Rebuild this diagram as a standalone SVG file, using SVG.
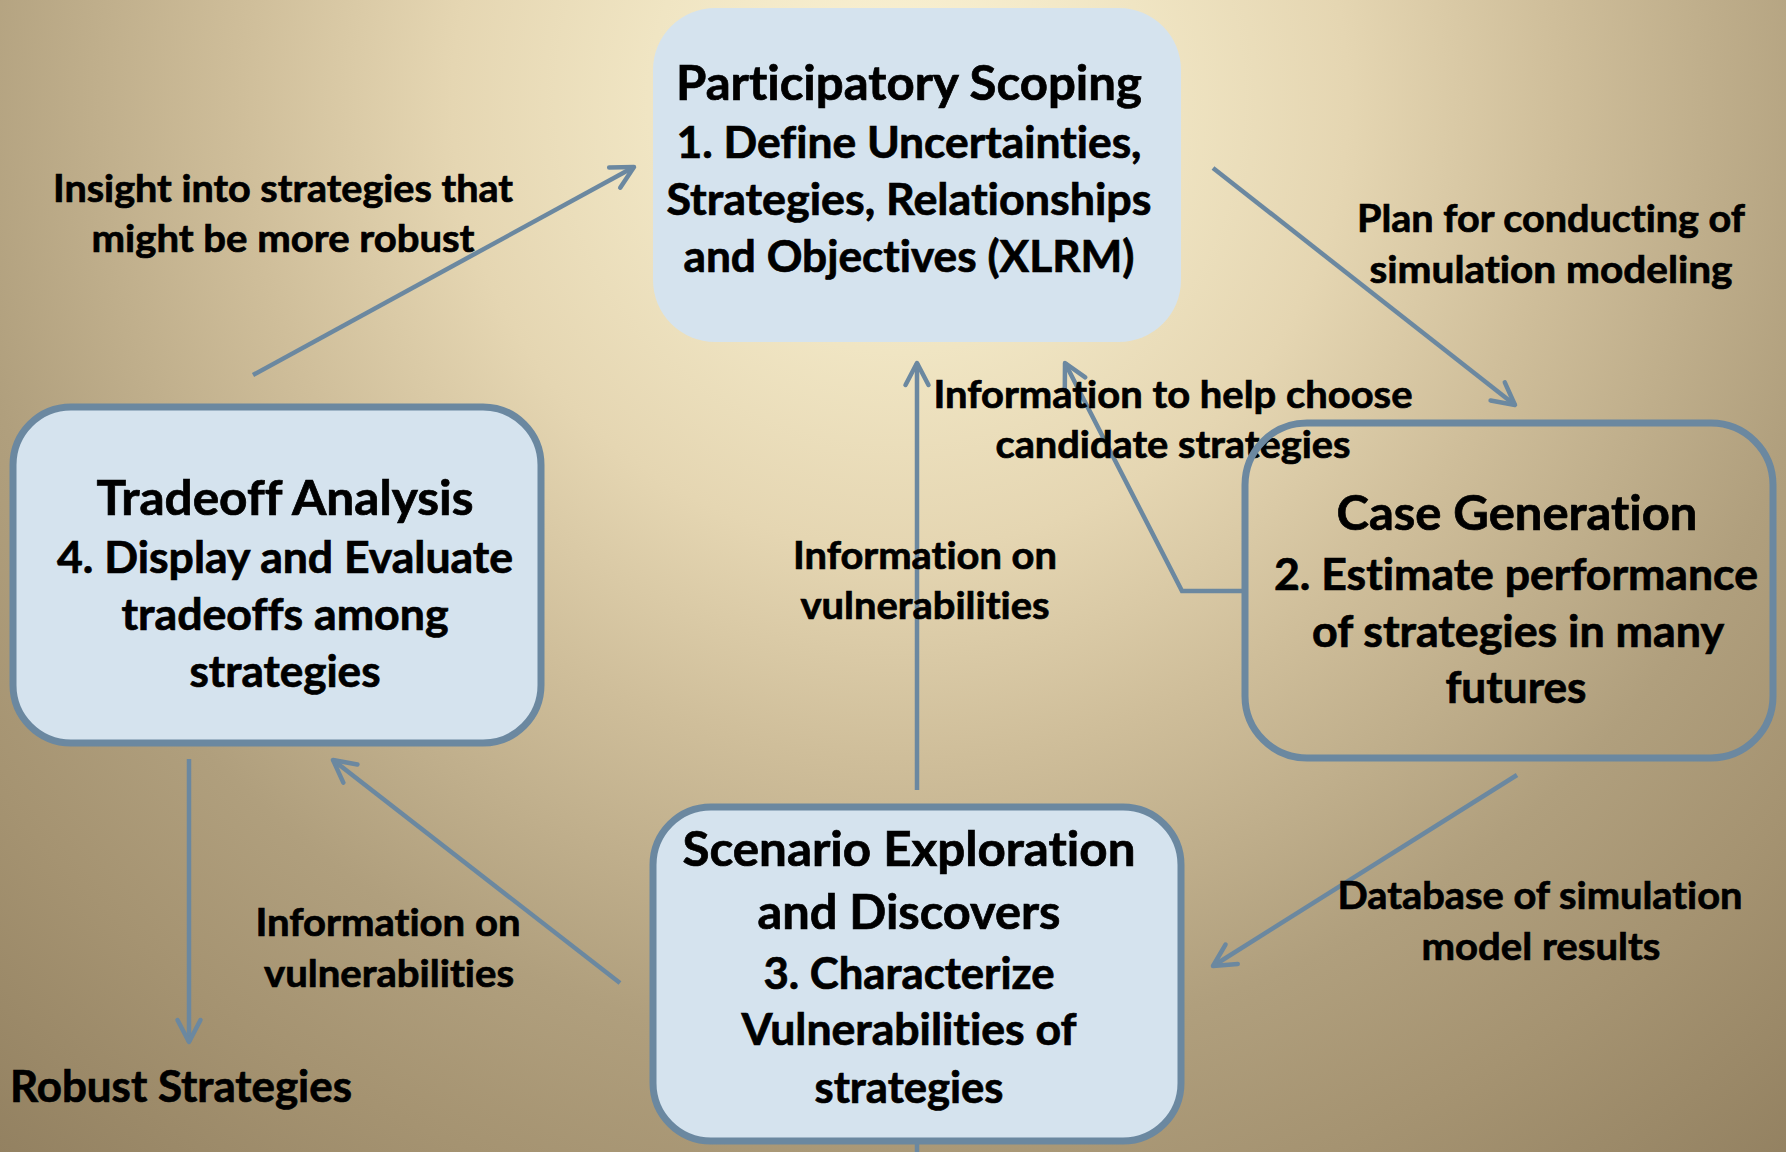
<svg xmlns="http://www.w3.org/2000/svg" width="1786" height="1152" viewBox="0 0 1786 1152">
  <defs>
    <radialGradient id="bg" gradientUnits="userSpaceOnUse" cx="900" cy="100" r="1400">
      <stop offset="0" stop-color="#fbf3d5"/>
      <stop offset="0.18" stop-color="#f0e5c3"/>
      <stop offset="0.32" stop-color="#e5d6b2"/>
      <stop offset="0.47" stop-color="#cfbe9a"/>
      <stop offset="0.68" stop-color="#b09f7d"/>
      <stop offset="0.81" stop-color="#a59371"/>
      <stop offset="1" stop-color="#928060"/>
    </radialGradient>
    <marker id="head" markerUnits="userSpaceOnUse" viewBox="0 0 32 32" markerWidth="32" markerHeight="32" refX="27" refY="16" orient="auto">
      <path d="M5,4.5 L27,16 L5,27.5" fill="none" stroke="#6b88a0" stroke-width="4.5" stroke-linecap="round" stroke-linejoin="round"/>
    </marker>
    <style>
      .box { fill: #d5e3ee; stroke: #6b88a0; stroke-width: 7; }
      .plain { fill: #d5e3ee; stroke: none; }
      .open { fill: none; stroke: #6b88a0; stroke-width: 7; }
      .conn { fill: none; stroke: #6b88a0; stroke-width: 4.5; }
      .arrow { marker-end: url(#head); }
      text { font-family: Lato, "Liberation Sans", sans-serif; font-weight: 700; fill: #000; stroke: #000; stroke-width: 0.7; text-anchor: middle; font-variant-ligatures: none; font-feature-settings: "liga" 0, "clig" 0; }
      .title { font-size: 48px; }
      .body { font-size: 43px; }
      .lbl { font-size: 38px; }
    </style>
  </defs>

  <rect x="0" y="0" width="1786" height="1152" fill="url(#bg)"/>

  <!-- connectors -->
  <g id="connectors">
    <line class="conn arrow" x1="253" y1="375" x2="634" y2="167"/>
    <line class="conn arrow" x1="1213" y1="168" x2="1515" y2="405"/>
    <line class="conn arrow" x1="1517" y1="775" x2="1213" y2="966"/>
    <line class="conn arrow" x1="620" y1="983" x2="333" y2="760"/>
    <line class="conn arrow" x1="189" y1="759" x2="189" y2="1042"/>
    <polyline class="conn arrow" points="1245,591 1182,591 1065,363"/>
    <line class="conn arrow" x1="917" y1="790" x2="917" y2="363"/>
    <line class="conn" x1="917" y1="1144" x2="917" y2="1152"/>
  </g>

  <!-- connector labels -->
  <g id="labels">
    <text class="lbl" x="283" y="202" textLength="460" lengthAdjust="spacingAndGlyphs">Insight into strategies that</text>
    <text class="lbl" x="283" y="252" textLength="383" lengthAdjust="spacingAndGlyphs">might be more robust</text>
    <text class="lbl" x="1551" y="232" textLength="388" lengthAdjust="spacingAndGlyphs">Plan for conducting of</text>
    <text class="lbl" x="1551" y="283" textLength="363" lengthAdjust="spacingAndGlyphs">simulation modeling</text>
    <text class="lbl" x="1173" y="408" textLength="479" lengthAdjust="spacingAndGlyphs">Information to help choose</text>
    <text class="lbl" x="1173" y="458" textLength="355" lengthAdjust="spacingAndGlyphs">candidate strategies</text>
    <text class="lbl" x="925" y="569" textLength="264" lengthAdjust="spacingAndGlyphs">Information on</text>
    <text class="lbl" x="925" y="619" textLength="249" lengthAdjust="spacingAndGlyphs">vulnerabilities</text>
    <text class="lbl" x="388" y="936" textLength="265" lengthAdjust="spacingAndGlyphs">Information on</text>
    <text class="lbl" x="389" y="987" textLength="250" lengthAdjust="spacingAndGlyphs">vulnerabilities</text>
    <text class="lbl" x="1540" y="909" textLength="405" lengthAdjust="spacingAndGlyphs">Database of simulation</text>
    <text class="lbl" x="1541" y="960" textLength="239" lengthAdjust="spacingAndGlyphs">model results</text>
  </g>

  <!-- outcome -->
  <g id="robust-strategies">
    <text class="body" x="10" y="1102" style="text-anchor:start" textLength="342" lengthAdjust="spacingAndGlyphs">Robust Strategies</text>
  </g>

  <!-- step 1 -->
  <g id="participatory-scoping">
    <rect class="plain" x="653" y="8" width="528" height="334" rx="62"/>
    <text class="title" x="909" y="100" textLength="466" lengthAdjust="spacingAndGlyphs">Participatory Scoping</text>
    <text class="body" x="909" y="158" textLength="465" lengthAdjust="spacingAndGlyphs">1. Define Uncertainties,</text>
    <text class="body" x="909" y="215" textLength="485" lengthAdjust="spacingAndGlyphs">Strategies, Relationships</text>
    <text class="body" x="909" y="272" textLength="451" lengthAdjust="spacingAndGlyphs">and Objectives (XLRM)</text>
  </g>

  <!-- step 2 -->
  <g id="case-generation">
    <rect class="open" x="1245" y="423" width="528" height="335" rx="62"/>
    <text class="title" x="1517" y="530" textLength="361" lengthAdjust="spacingAndGlyphs">Case Generation</text>
    <text class="body" x="1516" y="590" textLength="484" lengthAdjust="spacingAndGlyphs">2. Estimate performance</text>
    <text class="body" x="1518" y="647" textLength="412" lengthAdjust="spacingAndGlyphs">of strategies in many</text>
    <text class="body" x="1516" y="703" textLength="141" lengthAdjust="spacingAndGlyphs">futures</text>
  </g>

  <!-- step 3 -->
  <g id="scenario-exploration">
    <rect class="box" x="653" y="807" width="528" height="334" rx="58"/>
    <text class="title" x="909" y="866" textLength="453" lengthAdjust="spacingAndGlyphs">Scenario Exploration</text>
    <text class="title" x="909" y="929" textLength="303" lengthAdjust="spacingAndGlyphs">and Discovers</text>
    <text class="body" x="909" y="989" textLength="291" lengthAdjust="spacingAndGlyphs">3. Characterize</text>
    <text class="body" x="909" y="1045" textLength="335" lengthAdjust="spacingAndGlyphs">Vulnerabilities of</text>
    <text class="body" x="909" y="1103" textLength="189" lengthAdjust="spacingAndGlyphs">strategies</text>
  </g>

  <!-- step 4 -->
  <g id="tradeoff-analysis">
    <rect class="box" x="13" y="407" width="528" height="336" rx="58"/>
    <text class="title" x="285" y="515" textLength="377" lengthAdjust="spacingAndGlyphs">Tradeoff Analysis</text>
    <text class="body" x="285" y="573" textLength="456" lengthAdjust="spacingAndGlyphs">4. Display and Evaluate</text>
    <text class="body" x="285" y="630" textLength="327" lengthAdjust="spacingAndGlyphs">tradeoffs among</text>
    <text class="body" x="285" y="687" textLength="191" lengthAdjust="spacingAndGlyphs">strategies</text>
  </g>
</svg>
